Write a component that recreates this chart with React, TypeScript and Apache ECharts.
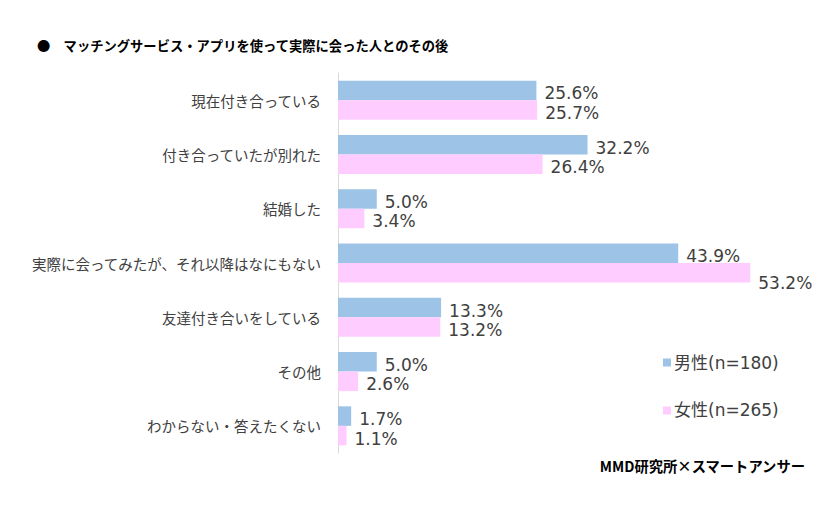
import React, { useEffect, useRef } from "react";
import * as echarts from "echarts";

const categories = [
  "現在付き合っている",
  "付き合っていたが別れた",
  "結婚した",
  "実際に会ってみたが、それ以降はなにもない",
  "友達付き合いをしている",
  "その他",
  "わからない・答えたくない",
];
const maleValues = [25.6, 32.2, 5.0, 43.9, 13.3, 5.0, 1.7];
const femaleValues = [25.7, 26.4, 3.4, 53.2, 13.2, 2.6, 1.1];
const seriesNames = ["男性(n=180)", "女性(n=265)"];
const titleText = "●　マッチングサービス・アプリを使って実際に会った人とのその後";
const sourceText = "MMD研究所×スマートアンサー";

const FONT = '"Noto Sans CJK JP", "Noto Sans", sans-serif';
const NUMFONT = '"DejaVu Sans", "Noto Sans CJK JP", sans-serif';

export default function App() {
  const ref = useRef<HTMLDivElement>(null);
  useEffect(() => {
    if (!ref.current) return;
    const chart = echarts.init(ref.current, undefined, { renderer: "svg" });
    const labelStyle = {
      show: true,
      position: "right" as const,
      distance: 8,
      offset: [0, 3],
      color: "#404040",
      fontSize: 17,
      fontFamily: NUMFONT,
      formatter: (p: any) => Number(p.value).toFixed(1) + "%",
    };
    const femaleData = femaleValues.map((v, i) =>
      i === 3 ? { value: v, label: { offset: [0, 10] } } : v
    );
    chart.setOption({
      animation: false,
      backgroundColor: "#ffffff",
      textStyle: { fontFamily: FONT },
      title: [
        {
          text: titleText,
          left: 37,
          top: 39,
          padding: 0,
          textStyle: { fontSize: 13.3, fontWeight: "bold", color: "#000", fontFamily: FONT },
        },
        {
          text: sourceText,
          right: 34,
          top: 458,
          padding: 0,
          textStyle: { fontSize: 14.3, fontWeight: "bold", color: "#000", fontFamily: FONT },
        },
      ],
      legend: {
        orient: "vertical",
        left: 658,
        top: 349,
        itemWidth: 8,
        itemHeight: 8,
        itemGap: 31,
        icon: "rect",
        data: seriesNames,
        textStyle: { fontSize: 17, color: "#404040", fontFamily: NUMFONT, padding: [0, 0, 0, -2] },
      },
      grid: { left: 338, right: 37, top: 73, height: 380, containLabel: false },
      xAxis: {
        type: "value",
        min: 0,
        max: 60,
        show: false,
      },
      yAxis: {
        type: "category",
        inverse: true,
        data: categories,
        axisLine: { show: true, lineStyle: { color: "#D9D9D9", width: 1 } },
        axisTick: { show: false },
        axisLabel: { margin: 17, fontSize: 14.5, color: "#404040", fontFamily: FONT },
      },
      series: [
        {
          name: seriesNames[0],
          type: "bar",
          data: maleValues,
          barWidth: 19.5,
          barGap: "0%",
          itemStyle: { color: "#9DC3E6" },
          label: labelStyle,
        },
        {
          name: seriesNames[1],
          type: "bar",
          data: femaleData,
          barWidth: 19.5,
          barGap: "0%",
          itemStyle: { color: "#FFCCFF" },
          label: labelStyle,
        },
      ],
    });
    return () => chart.dispose();
  }, []);
  return (
    <div
      ref={ref}
      style={{ position: "absolute", left: 0, top: 0, width: 840, height: 526 }}
    />
  );
}
